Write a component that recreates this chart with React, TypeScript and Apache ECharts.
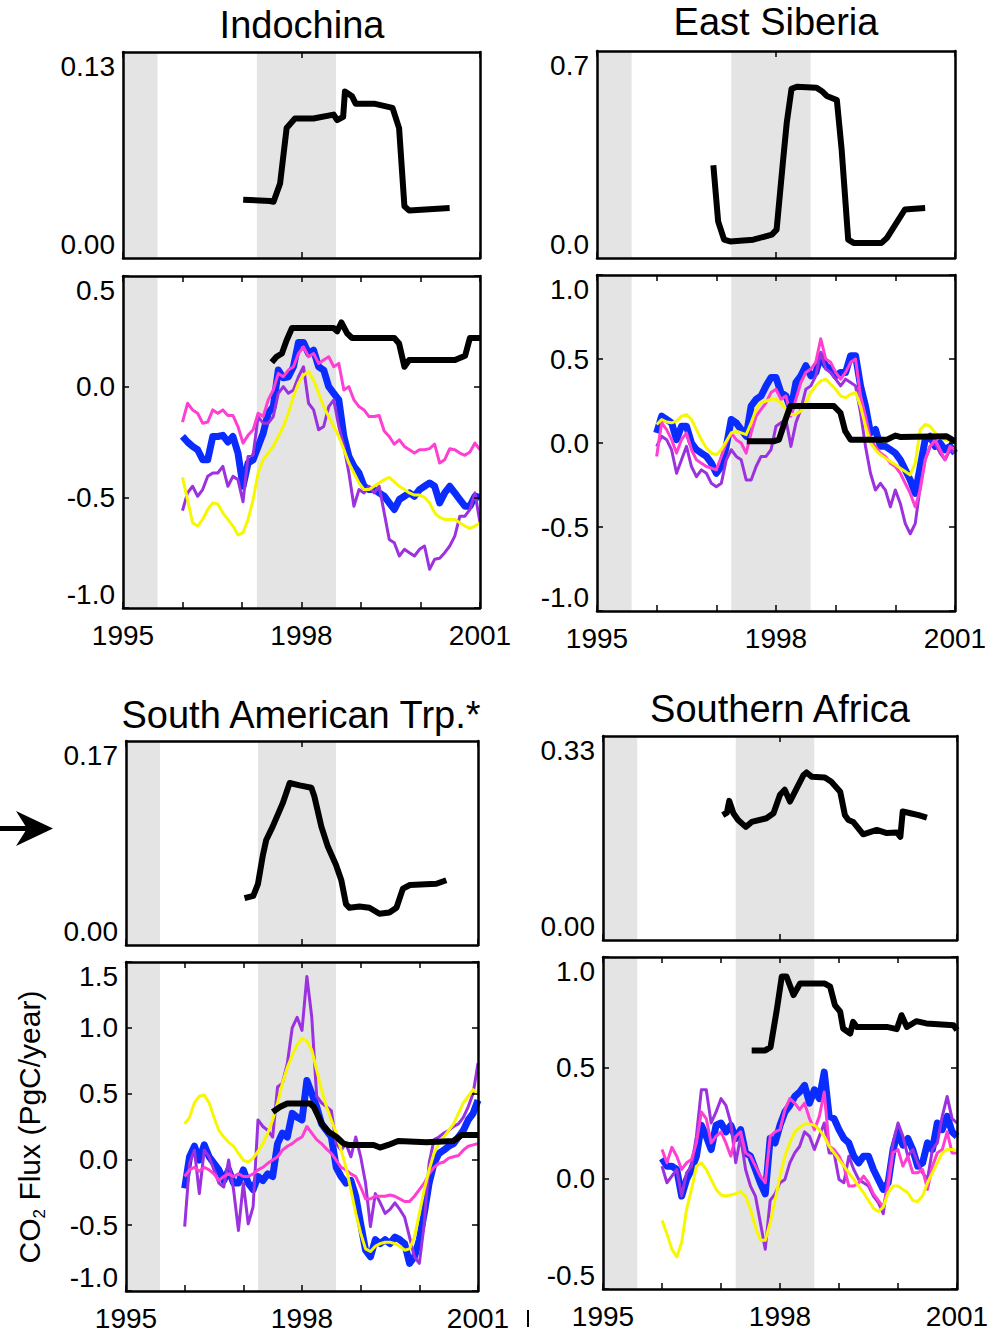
import React, { useEffect, useRef } from 'react';
import * as echarts from 'echarts';

const FONT = '"Liberation Sans", Arial, Helvetica, sans-serif';
const LABELLED_YEARS = [1995, 1998, 2001];
const SHADE_PERIODS = [[1995.0, 1995.58], [1997.25, 1998.58]];
const COLORS = { blue: '#0a2cff', purple: '#9b31df', magenta: '#ff3fd2', yellow: '#f7f700', black: '#000000', shade: '#e4e4e4' };

// ---------- Indochina ----------
const IC_TOP_BLACK = [[1997.02, 0.0368], [1997.47, 0.036], [1997.53, 0.0355], [1997.64, 0.047], [1997.75, 0.082], [1997.89, 0.088], [1998.2, 0.088], [1998.54, 0.0905], [1998.6, 0.087], [1998.7, 0.089], [1998.73, 0.105], [1998.85, 0.102], [1998.91, 0.0974], [1999.22, 0.0974], [1999.53, 0.0947], [1999.64, 0.082], [1999.73, 0.0326], [1999.81, 0.03], [2000.49, 0.0315]];
const IC_BLUE = [-0.225, -0.25, -0.27, -0.285, -0.33, -0.33, -0.225, -0.225, -0.22, -0.25, -0.225, -0.30, -0.45, -0.345, -0.33, -0.27, -0.21, -0.12, -0.09, 0.075, 0.04, 0.045, 0.09, 0.2, 0.2, 0.15, 0.165, 0.09, 0.075, 0.0, -0.03, -0.06, -0.225, -0.315, -0.36, -0.39, -0.45, -0.465, -0.465, -0.48, -0.495, -0.525, -0.555, -0.51, -0.495, -0.48, -0.495, -0.465, -0.45, -0.435, -0.45, -0.525, -0.48, -0.45, -0.48, -0.51, -0.54, -0.54, -0.495, -0.5];
const IC_PURPLE = [-0.56, -0.48, -0.45, -0.495, -0.465, -0.405, -0.39, -0.39, -0.36, -0.45, -0.405, -0.42, -0.52, -0.315, -0.31, -0.135, -0.165, -0.165, -0.135, -0.03, 0.0, -0.03, -0.015, 0.045, 0.09, -0.075, -0.105, -0.195, -0.18, -0.09, -0.06, -0.18, -0.27, -0.39, -0.54, -0.465, -0.48, -0.45, -0.48, -0.45, -0.57, -0.69, -0.705, -0.765, -0.735, -0.75, -0.765, -0.735, -0.72, -0.825, -0.78, -0.775, -0.75, -0.72, -0.675, -0.585, -0.585, -0.555, -0.48, -0.615];
const IC_MAGENTA = [-0.16, -0.075, -0.105, -0.12, -0.165, -0.16, -0.105, -0.12, -0.105, -0.13, -0.13, -0.18, -0.255, -0.22, -0.195, -0.12, -0.135, -0.06, -0.015, 0.06, 0.045, 0.075, 0.09, 0.15, 0.18, 0.135, 0.15, 0.105, 0.12, 0.135, 0.09, 0.105, -0.015, 0.0, -0.06, -0.09, -0.105, -0.135, -0.135, -0.13, -0.2, -0.225, -0.26, -0.24, -0.27, -0.285, -0.3, -0.285, -0.285, -0.28, -0.26, -0.345, -0.33, -0.28, -0.285, -0.3, -0.31, -0.295, -0.255, -0.285];
const IC_YELLOW = [-0.41, -0.51, -0.615, -0.63, -0.6, -0.555, -0.525, -0.53, -0.57, -0.6, -0.63, -0.67, -0.66, -0.6, -0.51, -0.39, -0.33, -0.30, -0.27, -0.225, -0.18, -0.12, -0.045, 0.015, 0.053, 0.068, 0.03, -0.03, -0.09, -0.135, -0.18, -0.225, -0.285, -0.345, -0.39, -0.435, -0.465, -0.465, -0.45, -0.435, -0.42, -0.41, -0.43, -0.45, -0.465, -0.48, -0.49, -0.49, -0.5, -0.525, -0.57, -0.59, -0.6, -0.6, -0.6, -0.615, -0.63, -0.64, -0.63, -0.615];
const IC_BOT_BLACK = [[1997.5, 0.11], [1997.58, 0.135], [1997.67, 0.15], [1997.75, 0.21], [1997.84, 0.265], [1998.54, 0.265], [1998.6, 0.25], [1998.67, 0.29], [1998.77, 0.24], [1998.85, 0.22], [1999.56, 0.22], [1999.64, 0.195], [1999.73, 0.09], [1999.81, 0.12], [2000.58, 0.12], [2000.75, 0.14], [2000.83, 0.22], [2001.0, 0.22]];

// ---------- East Siberia ----------
const ES_TOP_BLACK = [[1996.95, 0.314], [1997.03, 0.124], [1997.13, 0.062], [1997.23, 0.056], [1997.62, 0.062], [1997.93, 0.079], [1998.01, 0.096], [1998.12, 0.333], [1998.18, 0.457], [1998.26, 0.572], [1998.35, 0.579], [1998.68, 0.576], [1998.77, 0.564], [1998.85, 0.548], [1999.02, 0.534], [1999.1, 0.367], [1999.21, 0.062], [1999.3, 0.051], [1999.77, 0.051], [1999.86, 0.068], [2000.16, 0.164], [2000.27, 0.166], [2000.5, 0.169]];
const ES_BLUE = [0.06, 0.16, 0.14, 0.12, 0.02, 0.1, 0.1, 0.0, -0.04, -0.06, -0.08, -0.12, -0.18, -0.14, -0.02, 0.14, 0.12, 0.08, 0.04, 0.22, 0.26, 0.28, 0.34, 0.39, 0.39, 0.3, 0.28, 0.2, 0.36, 0.4, 0.46, 0.4, 0.42, 0.52, 0.46, 0.44, 0.4, 0.42, 0.42, 0.52, 0.52, 0.34, 0.22, 0.06, 0.08, -0.02, -0.02, -0.04, -0.06, -0.1, -0.16, -0.22, -0.3, -0.14, 0.02, 0.04, -0.02, 0.0, -0.04, -0.02, -0.06];
const ES_PURPLE = [-0.02, 0.04, 0.02, -0.04, -0.18, -0.1, -0.02, -0.14, -0.2, -0.16, -0.18, -0.24, -0.26, -0.24, -0.1, -0.04, -0.08, -0.1, -0.22, -0.22, -0.14, -0.08, -0.08, -0.04, 0.1, 0.12, 0.14, -0.02, 0.12, 0.2, 0.32, 0.34, 0.4, 0.54, 0.44, 0.42, 0.38, 0.34, 0.38, 0.36, 0.34, 0.18, -0.02, -0.18, -0.28, -0.24, -0.28, -0.38, -0.28, -0.36, -0.48, -0.54, -0.48, -0.26, -0.1, -0.02, 0.0, -0.06, -0.1, -0.04, -0.06];
const ES_MAGENTA = [-0.08, 0.12, 0.08, 0.02, -0.06, 0.02, 0.06, -0.04, -0.1, -0.12, -0.14, -0.15, -0.16, -0.08, 0.0, 0.06, 0.02, 0.0, -0.06, 0.06, 0.16, 0.2, 0.24, 0.3, 0.32, 0.26, 0.28, 0.16, 0.26, 0.36, 0.42, 0.44, 0.48, 0.62, 0.5, 0.48, 0.42, 0.38, 0.42, 0.48, 0.5, 0.28, 0.16, 0.02, -0.02, -0.06, -0.08, -0.12, -0.14, -0.18, -0.24, -0.3, -0.38, -0.28, -0.1, -0.02, 0.02, -0.04, -0.1, -0.02, -0.04];
const ES_YELLOW = [0.11, 0.14, 0.125, 0.12, 0.13, 0.16, 0.17, 0.14, 0.08, 0.02, -0.03, -0.06, -0.07, -0.04, 0.01, 0.06, 0.07, 0.06, 0.05, 0.12, 0.2, 0.24, 0.25, 0.26, 0.26, 0.24, 0.2, 0.17, 0.17, 0.19, 0.24, 0.3, 0.34, 0.37, 0.38, 0.35, 0.32, 0.28, 0.27, 0.29, 0.3, 0.22, 0.1, 0.0, -0.04, -0.07, -0.09, -0.11, -0.13, -0.15, -0.17, -0.19, -0.12, 0.08, 0.11, 0.1, 0.06, 0.04, 0.02, 0.01, 0.01];
const ES_BOT_BLACK = [[1997.51, 0.01], [1997.96, 0.01], [1998.05, 0.02], [1998.16, 0.14], [1998.24, 0.22], [1998.97, 0.22], [1999.08, 0.18], [1999.16, 0.07], [1999.25, 0.02], [1999.86, 0.02], [2000.0, 0.044], [2000.08, 0.036], [2000.86, 0.04], [2001.0, 0.01]];

// ---------- South American Trp. ----------
const SA_TOP_BLACK = [[1997.02, 0.039], [1997.17, 0.041], [1997.25, 0.051], [1997.33, 0.074], [1997.39, 0.0875], [1997.5, 0.0986], [1997.67, 0.118], [1997.79, 0.135], [1997.96, 0.133], [1998.16, 0.131], [1998.21, 0.124], [1998.33, 0.0986], [1998.44, 0.082], [1998.58, 0.0667], [1998.67, 0.054], [1998.75, 0.034], [1998.81, 0.031], [1998.98, 0.032], [1999.15, 0.031], [1999.32, 0.026], [1999.49, 0.027], [1999.61, 0.031], [1999.72, 0.047], [1999.84, 0.05], [2000.29, 0.051], [2000.46, 0.054]];
const SA_BLUE = [-0.22, 0.02, 0.1, -0.005, 0.11, 0.02, -0.03, -0.08, -0.16, -0.08, -0.18, -0.18, -0.08, -0.18, -0.23, -0.13, -0.16, -0.11, -0.13, 0.12, 0.2, 0.17, 0.35, 0.32, 0.3, 0.6, 0.5, 0.4, 0.27, 0.22, 0.17, -0.06, -0.13, -0.18, -0.16, -0.28, -0.49, -0.69, -0.74, -0.61, -0.64, -0.61, -0.64, -0.59, -0.61, -0.64, -0.79, -0.74, -0.61, -0.41, -0.18, -0.03, 0.045, 0.07, 0.1, 0.12, 0.17, 0.22, 0.3, 0.35, 0.45];
const SA_PURPLE = [-0.51, -0.03, 0.07, -0.26, 0.07, 0.02, -0.08, -0.18, -0.21, -0.005, -0.23, -0.54, -0.18, -0.49, -0.36, 0.3, 0.25, 0.22, 0.17, 0.55, 0.58, 0.73, 1.0, 1.08, 0.98, 1.39, 1.08, 0.48, 0.43, 0.4, 0.37, 0.12, 0.07, 0.12, 0.02, 0.17, 0.02, -0.18, -0.51, -0.26, -0.33, -0.41, -0.38, -0.33, -0.38, -0.44, -0.59, -0.74, -0.79, -0.49, -0.03, 0.15, 0.17, 0.2, 0.22, 0.25, 0.27, 0.32, 0.4, 0.5, 0.73];
const SA_MAGENTA = [-0.13, -0.08, -0.06, -0.09, -0.06, -0.08, -0.11, -0.16, -0.13, -0.11, -0.13, -0.11, -0.13, -0.13, -0.11, -0.08, -0.06, -0.03, -0.005, 0.02, 0.07, 0.1, 0.12, 0.15, 0.17, 0.25, 0.2, 0.15, 0.12, 0.08, 0.045, -0.005, -0.06, -0.08, -0.11, -0.13, -0.21, -0.3, -0.3, -0.28, -0.28, -0.28, -0.27, -0.28, -0.3, -0.32, -0.32, -0.28, -0.23, -0.18, -0.11, -0.06, -0.03, -0.02, 0.01, 0.02, 0.03, 0.07, 0.1, 0.11, 0.12];
const SA_YELLOW = [0.27, 0.32, 0.43, 0.48, 0.49, 0.43, 0.32, 0.22, 0.17, 0.13, 0.1, 0.045, -0.005, -0.02, 0.01, 0.06, 0.12, 0.2, 0.3, 0.43, 0.58, 0.7, 0.79, 0.87, 0.92, 0.9, 0.83, 0.68, 0.53, 0.4, 0.3, 0.2, 0.07, -0.06, -0.23, -0.41, -0.56, -0.68, -0.7, -0.66, -0.64, -0.63, -0.63, -0.64, -0.66, -0.69, -0.68, -0.59, -0.41, -0.23, -0.08, 0.045, 0.12, 0.17, 0.22, 0.27, 0.35, 0.43, 0.48, 0.53, 0.5];
const SA_BOT_BLACK = [[1997.5, 0.36], [1997.63, 0.4], [1997.75, 0.425], [1998.14, 0.425], [1998.2, 0.4], [1998.34, 0.27], [1998.45, 0.21], [1998.59, 0.17], [1998.71, 0.12], [1998.79, 0.11], [1999.22, 0.11], [1999.33, 0.09], [1999.47, 0.11], [1999.64, 0.14], [2000.12, 0.13], [2000.58, 0.14], [2000.72, 0.185], [2001.0, 0.185]];

// ---------- Southern Africa ----------
const SAF_TOP_BLACK = [[1997.03, 0.202], [1997.1, 0.206], [1997.14, 0.225], [1997.21, 0.205], [1997.29, 0.194], [1997.42, 0.183], [1997.52, 0.191], [1997.77, 0.197], [1997.89, 0.205], [1998.0, 0.235], [1998.08, 0.243], [1998.17, 0.224], [1998.28, 0.245], [1998.4, 0.267], [1998.45, 0.271], [1998.54, 0.264], [1998.76, 0.263], [1998.87, 0.256], [1999.02, 0.24], [1999.1, 0.202], [1999.16, 0.194], [1999.24, 0.191], [1999.41, 0.171], [1999.64, 0.178], [1999.81, 0.173], [1999.98, 0.174], [2000.04, 0.167], [2000.08, 0.208], [2000.21, 0.205], [2000.35, 0.202], [2000.49, 0.198]];
const SAF_BLUE = [0.09, 0.055, 0.055, 0.04, -0.08, -0.005, 0.04, 0.1, 0.24, 0.19, 0.13, 0.24, 0.25, 0.21, 0.24, 0.18, 0.22, 0.115, 0.1, 0.04, -0.02, -0.07, 0.18, 0.16, 0.24, 0.3, 0.33, 0.37, 0.39, 0.42, 0.34, 0.4, 0.36, 0.48, 0.28, 0.27, 0.22, 0.18, 0.16, 0.1, 0.07, 0.1, 0.1, 0.04, -0.005, -0.05, -0.02, 0.13, 0.21, 0.15, 0.18, 0.13, 0.055, 0.07, 0.16, 0.13, 0.25, 0.22, 0.28, 0.21, 0.19];
const SAF_PURPLE = [0.055, -0.02, 0.01, 0.04, -0.08, 0.025, 0.055, 0.19, 0.4, 0.4, 0.25, 0.3, 0.36, 0.33, 0.25, 0.07, 0.19, 0.04, -0.035, -0.08, -0.2, -0.32, -0.1, -0.07, -0.02, -0.005, 0.07, 0.115, 0.145, 0.21, 0.19, 0.13, 0.19, 0.25, 0.115, 0.115, -0.005, -0.02, 0.1, 0.04, -0.005, -0.02, -0.035, -0.08, -0.11, -0.16, 0.01, 0.16, 0.25, 0.19, 0.1, 0.13, 0.07, 0.025, -0.005, 0.13, 0.16, 0.28, 0.37, 0.27, 0.25];
const SAF_MAGENTA = [0.13, 0.07, 0.14, 0.1, 0.04, 0.07, 0.085, 0.16, 0.3, 0.27, 0.16, 0.19, 0.21, 0.16, 0.1, 0.19, 0.21, 0.115, 0.1, 0.055, 0.01, -0.02, 0.19, 0.21, 0.22, 0.31, 0.36, 0.34, 0.31, 0.34, 0.27, 0.22, 0.28, 0.39, 0.145, 0.13, 0.1, 0.055, -0.035, -0.035, -0.02, 0.01, -0.02, -0.07, -0.1, -0.13, -0.035, 0.115, 0.13, 0.055, 0.1, 0.025, 0.025, 0.04, -0.05, 0.055, 0.115, 0.13, 0.21, 0.115, 0.115];
const SAF_YELLOW = [-0.19, -0.25, -0.32, -0.355, -0.29, -0.14, -0.05, 0.055, 0.07, 0.04, -0.005, -0.05, -0.075, -0.08, -0.075, -0.07, -0.06, -0.08, -0.14, -0.22, -0.28, -0.28, -0.2, -0.1, 0.01, 0.1, 0.16, 0.21, 0.23, 0.245, 0.245, 0.24, 0.22, 0.19, 0.145, 0.115, 0.085, 0.055, 0.025, -0.005, -0.035, -0.065, -0.1, -0.135, -0.15, -0.13, -0.065, -0.035, -0.035, -0.05, -0.065, -0.1, -0.105, -0.08, -0.02, 0.025, 0.07, 0.115, 0.13, 0.13, 0.125];
const SAF_BOT_BLACK = [[1997.52, 0.578], [1997.75, 0.578], [1997.84, 0.593], [1997.95, 0.768], [1998.03, 0.912], [1998.11, 0.912], [1998.23, 0.828], [1998.34, 0.88], [1998.76, 0.88], [1998.85, 0.866], [1998.93, 0.783], [1999.02, 0.753], [1999.07, 0.677], [1999.19, 0.654], [1999.24, 0.707], [1999.3, 0.684], [1999.81, 0.684], [1999.98, 0.674], [2000.06, 0.737], [2000.15, 0.684], [2000.31, 0.71], [2000.48, 0.7], [2000.94, 0.692], [2001.0, 0.67]];

const PANELS = [
  { title: 'Indochina', titlePos: [302, 25], top: { left: 123, top: 52, width: 357, height: 206 }, bot: { left: 123, top: 276, width: 357, height: 332 }, topMax: 0.13, topDec: 2, botMin: -1, botMax: 0.5, topBlack: IC_TOP_BLACK, blue: IC_BLUE, purple: IC_PURPLE, magenta: IC_MAGENTA, yellow: IC_YELLOW, botBlack: IC_BOT_BLACK },
  { title: 'East Siberia', titlePos: [776, 22], top: { left: 597, top: 51, width: 358, height: 207 }, bot: { left: 597, top: 275, width: 358, height: 336 }, topMax: 0.7, topDec: 1, botMin: -1, botMax: 1, topBlack: ES_TOP_BLACK, blue: ES_BLUE, purple: ES_PURPLE, magenta: ES_MAGENTA, yellow: ES_YELLOW, botBlack: ES_BOT_BLACK },
  { title: 'South American Trp.*', titlePos: [301, 715], top: { left: 126, top: 741, width: 352, height: 204 }, bot: { left: 126, top: 962, width: 352, height: 329 }, topMax: 0.17, topDec: 2, botMin: -1, botMax: 1.5, topBlack: SA_TOP_BLACK, blue: SA_BLUE, purple: SA_PURPLE, magenta: SA_MAGENTA, yellow: SA_YELLOW, botBlack: SA_BOT_BLACK },
  { title: 'Southern Africa', titlePos: [780, 709], top: { left: 603, top: 736, width: 354, height: 204 }, bot: { left: 603, top: 957, width: 354, height: 332 }, topMax: 0.33, topDec: 2, botMin: -0.5, botMax: 1, topBlack: SAF_TOP_BLACK, blue: SAF_BLUE, purple: SAF_PURPLE, magenta: SAF_MAGENTA, yellow: SAF_YELLOW, botBlack: SAF_BOT_BLACK },
];

const spread = (vals: number[]) => vals.map((v, i) => [1996 + (5 * i) / (vals.length - 1), v]);

function buildOption() {
  const grid: any[] = [];
  const xAxis: any[] = [];
  const yAxis: any[] = [];
  const series: any[] = [];
  const labelStyle = { fontSize: 28, color: '#000', fontFamily: FONT };
  const frame = { show: true, onZero: false, lineStyle: { color: '#000', width: 2.5 } };

  const addGrid = (rect: any, isTop: boolean, yMin: number, yMax: number, yInt: number, dec: number) => {
    const g = grid.length;
    grid.push({ ...rect, containLabel: false });
    const tick = { show: true, inside: true, length: 6, lineStyle: { color: '#000', width: 1.5 } };
    ['bottom', 'top'].forEach((pos) => {
      xAxis.push({
        gridIndex: g, type: 'value', position: pos, min: 1995, max: 2001, interval: isTop ? 3 : 1, z: 10,
        axisLine: frame, axisTick: tick, splitLine: { show: false },
        axisLabel: {
          show: !isTop && pos === 'bottom', margin: 13, ...labelStyle,
          formatter: (v: number) => (LABELLED_YEARS.includes(Math.round(v)) ? String(Math.round(v)) : ''),
        },
      });
    });
    ['left', 'right'].forEach((pos) => {
      yAxis.push({
        gridIndex: g, type: 'value', position: pos, min: yMin, max: yMax, interval: yInt, z: 10,
        axisLine: frame, axisTick: { ...tick, show: !isTop }, splitLine: { show: false },
        axisLabel: {
          show: pos === 'left', margin: 8, ...labelStyle,
          verticalAlignMaxLabel: 'top', verticalAlignMinLabel: 'bottom',
          formatter: (v: number) => v.toFixed(dec),
        },
      });
    });
    series.push({
      type: 'line', xAxisIndex: 2 * g, yAxisIndex: 2 * g, data: [], silent: true, z: 1,
      markArea: { silent: true, itemStyle: { color: COLORS.shade }, data: SHADE_PERIODS.map(([a, b]) => [{ xAxis: a }, { xAxis: b }]) },
    });
    return g;
  };

  const line = (g: number, data: any[], color: string, width: number) => ({
    type: 'line', xAxisIndex: 2 * g, yAxisIndex: 2 * g, data, symbol: 'none', showSymbol: false, silent: true,
    lineStyle: { color, width, join: 'round' }, z: 3,
  });

  PANELS.forEach((p) => {
    const gt = addGrid(p.top, true, 0, p.topMax, p.topMax, p.topDec);
    series.push(line(gt, p.topBlack, COLORS.black, 6));
    const gb = addGrid(p.bot, false, p.botMin, p.botMax, 0.5, 1);
    series.push(line(gb, spread(p.blue), COLORS.blue, 7));
    series.push(line(gb, spread(p.purple), COLORS.purple, 3));
    series.push(line(gb, spread(p.magenta), COLORS.magenta, 3));
    series.push(line(gb, spread(p.yellow), COLORS.yellow, 3));
    series.push(line(gb, p.botBlack, COLORS.black, 6));
  });

  const graphic: any[] = PANELS.map((p) => ({
    type: 'text', x: p.titlePos[0], y: p.titlePos[1],
    style: { text: p.title, fontSize: 38, fontFamily: FONT, fill: '#000', align: 'center', verticalAlign: 'middle', textAlign: 'center', textVerticalAlign: 'middle' },
  }));
  graphic.push({
    type: 'text', x: 31, y: 1127, rotation: Math.PI / 2,
    style: {
      text: '{a|CO}{s|2}{a| Flux (PgC/year)}', fill: '#000', align: 'center', verticalAlign: 'middle', textAlign: 'center', textVerticalAlign: 'middle',
      rich: {
        a: { fontSize: 30, fontFamily: FONT, lineHeight: 33, verticalAlign: 'top', fill: '#000' },
        s: { fontSize: 17, fontFamily: FONT, lineHeight: 17, verticalAlign: 'bottom', padding: [26, 0, 0, 0], fill: '#000' },
      },
    },
  });
  graphic.push({ type: 'rect', shape: { x: 0, y: 826, width: 30, height: 5 }, style: { fill: '#000' } });
  graphic.push({ type: 'polygon', shape: { points: [[16, 811], [53, 828.5], [16, 846], [27, 828.5]] }, style: { fill: '#000' } });
  graphic.push({ type: 'line', shape: { x1: 528, y1: 1310, x2: 528, y2: 1327 }, style: { stroke: '#000', lineWidth: 2 } });

  return { animation: false, backgroundColor: '#fff', grid, xAxis, yAxis, series, graphic };
}

export default function App() {
  const ref = useRef<HTMLDivElement>(null);
  useEffect(() => {
    if (!ref.current) return;
    const chart = echarts.init(ref.current, undefined, { renderer: 'svg' });
    chart.setOption(buildOption() as any);
    return () => chart.dispose();
  }, []);
  return <div ref={ref} style={{ position: 'fixed', left: 0, top: 0, width: 1001, height: 1334, background: '#fff' }} />;
}
